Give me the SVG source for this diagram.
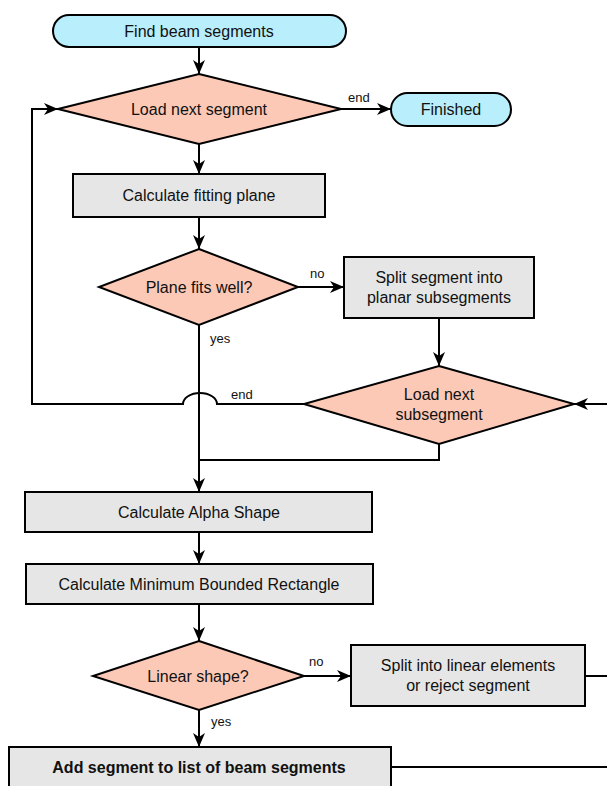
<svg xmlns="http://www.w3.org/2000/svg" width="607" height="786" viewBox="0 0 607 786">
<style>
.term{fill:#b9eefc;stroke:#000;stroke-width:2}
.dec{fill:#fdc9b7;stroke:#000;stroke-width:2}
.proc{fill:#e6e6e6;stroke:#000;stroke-width:2}
.t{font-family:"Liberation Sans",Arial,sans-serif;font-size:16px;fill:#111;text-anchor:middle;dominant-baseline:central}
.b{font-weight:bold}
.lbl{font-family:"Liberation Sans",Arial,sans-serif;font-size:13px;fill:#111;dominant-baseline:central}
.c{fill:none;stroke:#000;stroke-width:2}
</style>
<defs>
<marker id="ah" markerUnits="userSpaceOnUse" markerWidth="14" markerHeight="12" viewBox="0 0 14 12" refX="14" refY="6" orient="auto">
<path d="M0,0 L14,6 L0,12 L4,6 Z" fill="#000"/>
</marker>
</defs>
<rect width="607" height="786" fill="#fff"/>
<g id="connectors">
<path class="c" d="M199,47 L199,74" marker-end="url(#ah)"/>
<path class="c" d="M341,109 L391,109" marker-end="url(#ah)"/>
<path class="c" d="M199,144 L199,174" marker-end="url(#ah)"/>
<path class="c" d="M199,217 L199,249" marker-end="url(#ah)"/>
<path class="c" d="M298,287 L344,287" marker-end="url(#ah)"/>
<path class="c" d="M439,318 L439,366" marker-end="url(#ah)"/>
<path class="c" d="M607,404 L574,404" marker-end="url(#ah)"/>
<path class="c" d="M304,404 L217,404 A17,11 0 0 0 183,404 L32,404 L32,109 L58,109" marker-end="url(#ah)"/>
<path class="c" d="M199,325 L199,492" marker-end="url(#ah)"/>
<path class="c" d="M439,444 L439,460 L199,460"/>
<path class="c" d="M199,532 L199,564" marker-end="url(#ah)"/>
<path class="c" d="M199,604 L199,641" marker-end="url(#ah)"/>
<path class="c" d="M304,676 L351,676" marker-end="url(#ah)"/>
<path class="c" d="M585,676 L607,676"/>
<path class="c" d="M199,710 L199,747" marker-end="url(#ah)"/>
<path class="c" d="M391,767 L607,767"/>
<text class="lbl" x="348" y="97">end</text>
<text class="lbl" x="310" y="273">no</text>
<text class="lbl" x="210" y="338">yes</text>
<text class="lbl" x="231" y="394">end</text>
<text class="lbl" x="309" y="661">no</text>
<text class="lbl" x="211" y="721">yes</text>
</g>
<g id="start">
<rect class="term" x="53" y="15" width="293" height="32" rx="16"/>
<text class="t" x="199" y="31">Find beam segments</text>
</g>
<g id="load-segment">
<polygon class="dec" points="199,74 341,109 199,144 58,109"/>
<text class="t" x="199" y="109">Load next segment</text>
</g>
<g id="finished">
<rect class="term" x="391" y="93" width="120" height="33" rx="16.5"/>
<text class="t" x="451" y="109">Finished</text>
</g>
<g id="fitting-plane">
<rect class="proc" x="73" y="174" width="252" height="43"/>
<text class="t" x="199" y="195">Calculate fitting plane</text>
</g>
<g id="plane-fits">
<polygon class="dec" points="199,249 298,287 199,325 99,287"/>
<text class="t" x="199" y="287">Plane fits well?</text>
</g>
<g id="split-planar">
<rect class="proc" x="344" y="257" width="190" height="61"/>
<text class="t" x="439" y="277">Split segment into</text>
<text class="t" x="439" y="297">planar subsegments</text>
</g>
<g id="load-subsegment">
<polygon class="dec" points="439,366 574,404 439,444 304,404"/>
<text class="t" x="439" y="394">Load next</text>
<text class="t" x="439" y="414">subsegment</text>
</g>
<g id="alpha-shape">
<rect class="proc" x="25" y="492" width="347" height="40"/>
<text class="t" x="199" y="512">Calculate Alpha Shape</text>
</g>
<g id="mbr">
<rect class="proc" x="26" y="564" width="347" height="40"/>
<text class="t" x="199" y="584">Calculate Minimum Bounded Rectangle</text>
</g>
<g id="linear-shape">
<polygon class="dec" points="199,641 304,676 199,710 93,676"/>
<text class="t" x="198" y="676">Linear shape?</text>
</g>
<g id="split-linear">
<rect class="proc" x="351" y="645" width="234" height="61"/>
<text class="t" x="468" y="665">Split into linear elements</text>
<text class="t" x="468" y="685">or reject segment</text>
</g>
<g id="add-segment">
<rect class="proc" x="9" y="747" width="382" height="60"/>
<text class="t b" x="199" y="767">Add segment to list of beam segments</text>
</g>
</svg>
